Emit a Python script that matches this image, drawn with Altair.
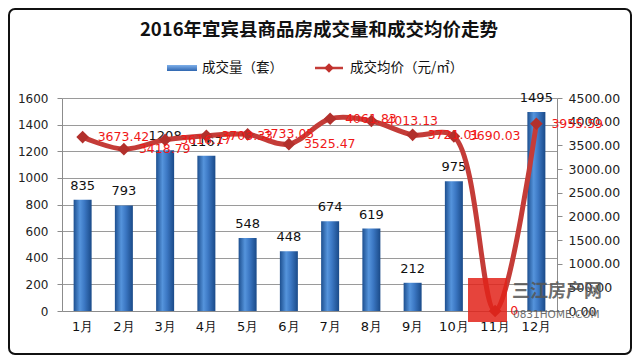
import altair as alt
import pandas as pd

months = ["1月", "2月", "3月", "4月", "5月", "6月", "7月", "8月", "9月", "10月", "11月", "12月"]
volume = [835, 793, 1208, 1167, 548, 448, 674, 619, 212, 975, 0, 1495]
price = [3673.42, 3418.79, 3616.17, 3703.33, 3733.05, 3525.47, 4061.83, 4013.13, 3721.01, 3690.03, 0, 3955.59]
price_labels = ["3673.42", "3418.79", "3616.17", "3703.33", "3733.05", "3525.47", "4061.83", "4013.13", "3721.01", "3690.03", "0", "3955.59"]

left_ticks = [0, 200, 400, 600, 800, 1000, 1200, 1400, 1600]
right_ticks = [0, 500, 1000, 1500, 2000, 2500, 3000, 3500, 4000, 4500]

title_text = "2016年宜宾县商品房成交量和成交均价走势"
legend_bar = "成交量（套）"
legend_line = "成交均价（元/㎡）"

df = pd.DataFrame({"month": months, "volume": volume, "price": price, "plabel": price_labels})
df["vlabel"] = [str(v) if v > 0 else "" for v in volume]

W, H = 495, 213
PL, PT = 54, 90
PR, PB = 624 - PL - W, 347 - PT - H

CJK = "Noto Sans CJK SC"
NUM = "DejaVu Sans"

bar_grad = alt.Gradient(
    gradient="linear", x1=0, x2=1, y1=0, y2=0,
    stops=[
        alt.GradientStop(color="#1d4f8f", offset=0),
        alt.GradientStop(color="#5594dc", offset=0.35),
        alt.GradientStop(color="#3c78c4", offset=0.6),
        alt.GradientStop(color="#1a4a88", offset=1),
    ],
)
legend_grad = alt.Gradient(
    gradient="linear", x1=0, x2=0, y1=0, y2=1,
    stops=[
        alt.GradientStop(color="#7fb0ea", offset=0),
        alt.GradientStop(color="#2f66b0", offset=1),
    ],
)

xenc = alt.X(
    "month:N", sort=months, title=None,
    scale=alt.Scale(paddingInner=0, paddingOuter=0),
    axis=alt.Axis(labelAngle=0, ticks=False, domainColor="#8c8c8c", labelFont=NUM,
                  labelFontSize=13, labelColor="#111", labelPadding=9),
)

base = alt.Chart(df).encode(x=xenc)

left_axis = alt.Axis(values=left_ticks, format="d", labelOverlap=False, grid=True, tickCount=9,
                     gridColor="#9a9a9a", domainColor="#8c8c8c", tickColor="#8c8c8c", tickSize=5,
                     labelFont=NUM, labelFontSize=12, labelColor="#222", labelPadding=9)
right_axis = alt.Axis(orient="right", values=right_ticks, format=".2f", labelOverlap=False, tickCount=10,
                      grid=False, domainColor="#8c8c8c", tickColor="#8c8c8c", tickSize=5,
                      labelFont=NUM, labelFontSize=12.5, labelColor="#222", labelPadding=6)

y_left = alt.Y("volume:Q", title=None, scale=alt.Scale(domain=[0, 1600], nice=False), axis=left_axis)
y_right = alt.Y("price:Q", title=None, scale=alt.Scale(domain=[0, 4500], nice=False), axis=right_axis)

bars = base.mark_bar(size=18, color=bar_grad).encode(y=y_left)
bar_text = base.mark_text(baseline="bottom", dy=-7, font=NUM, fontSize=13, color="#111").encode(
    y=y_left, text="vlabel:N")
left = alt.layer(bars, bar_text)

line = base.mark_line(interpolate="catmull-rom", strokeWidth=5, color="#c43c38", clip=False).encode(y=y_right)
pts = base.mark_point(shape="diamond", filled=True, size=160, color="#b2302c", opacity=1).encode(y=y_right)
ptext = base.mark_text(align="left", baseline="middle", dx=15, font=NUM, fontSize=12.5, color="#f01818").encode(
    y=y_right, text="plabel:N")
right = alt.layer(line, pts, ptext)

one = pd.DataFrame({"k": [0]})
deco = alt.Chart(one)

title = deco.mark_text(font=CJK, fontSize=18.5, fontWeight="bold", color="#111", align="center", baseline="middle").encode(
    x=alt.value(257), y=alt.value(-68), text=alt.value(title_text))
leg_sw = deco.mark_rect(color=legend_grad).encode(
    x=alt.value(105), x2=alt.value(135), y=alt.value(-33), y2=alt.value(-27))
leg_t1 = deco.mark_text(font=CJK, fontSize=13.5, color="#111", align="left", baseline="middle").encode(
    x=alt.value(140), y=alt.value(-30), text=alt.value(legend_bar))
leg_ln = deco.mark_rule(color="#c43c38", strokeWidth=2.5).encode(
    x=alt.value(253), x2=alt.value(281), y=alt.value(-30))
leg_pt = deco.mark_point(shape="diamond", filled=True, size=90, color="#c0302c", opacity=1).encode(
    x=alt.value(267), y=alt.value(-30))
leg_t2 = deco.mark_text(font=CJK, fontSize=13.5, color="#111", align="left", baseline="middle").encode(
    x=alt.value(288), y=alt.value(-30), text=alt.value(legend_line))

border = deco.mark_rect(fill="transparent", stroke="#111", strokeWidth=2, cornerRadius=6).encode(
    x=alt.value(-PL + 1), x2=alt.value(W + PR - 1), y=alt.value(-PT + 1), y2=alt.value(H + PB - 1))

wm_logo = deco.mark_rect(color="#e2231a", opacity=0.85).encode(
    x=alt.value(406), x2=alt.value(445), y=alt.value(180), y2=alt.value(224))
wm_t1 = deco.mark_text(font=CJK, fontSize=18, fontWeight="bold", color="#555", opacity=0.85, align="left", baseline="middle").encode(
    x=alt.value(450), y=alt.value(194), text=alt.value("三江房产网"))
wm_t2 = deco.mark_text(font=NUM, fontSize=10.5, color="#555", opacity=0.85, align="left", baseline="middle").encode(
    x=alt.value(451), y=alt.value(217), text=alt.value("0831HOME.COM"))

chart = alt.layer(left, right, title, leg_sw, leg_t1, leg_ln, leg_pt, leg_t2, wm_logo, wm_t1, wm_t2, border).resolve_scale(
    y="independent"
).properties(
    width=W, height=H,
    padding={"left": PL, "top": PT, "right": PR, "bottom": PB},
    autosize=alt.AutoSizeParams(type="none"),
    background="white",
).configure_view(strokeOpacity=0)

chart.save("out.html", embed_options={"renderer": "svg", "actions": False})
